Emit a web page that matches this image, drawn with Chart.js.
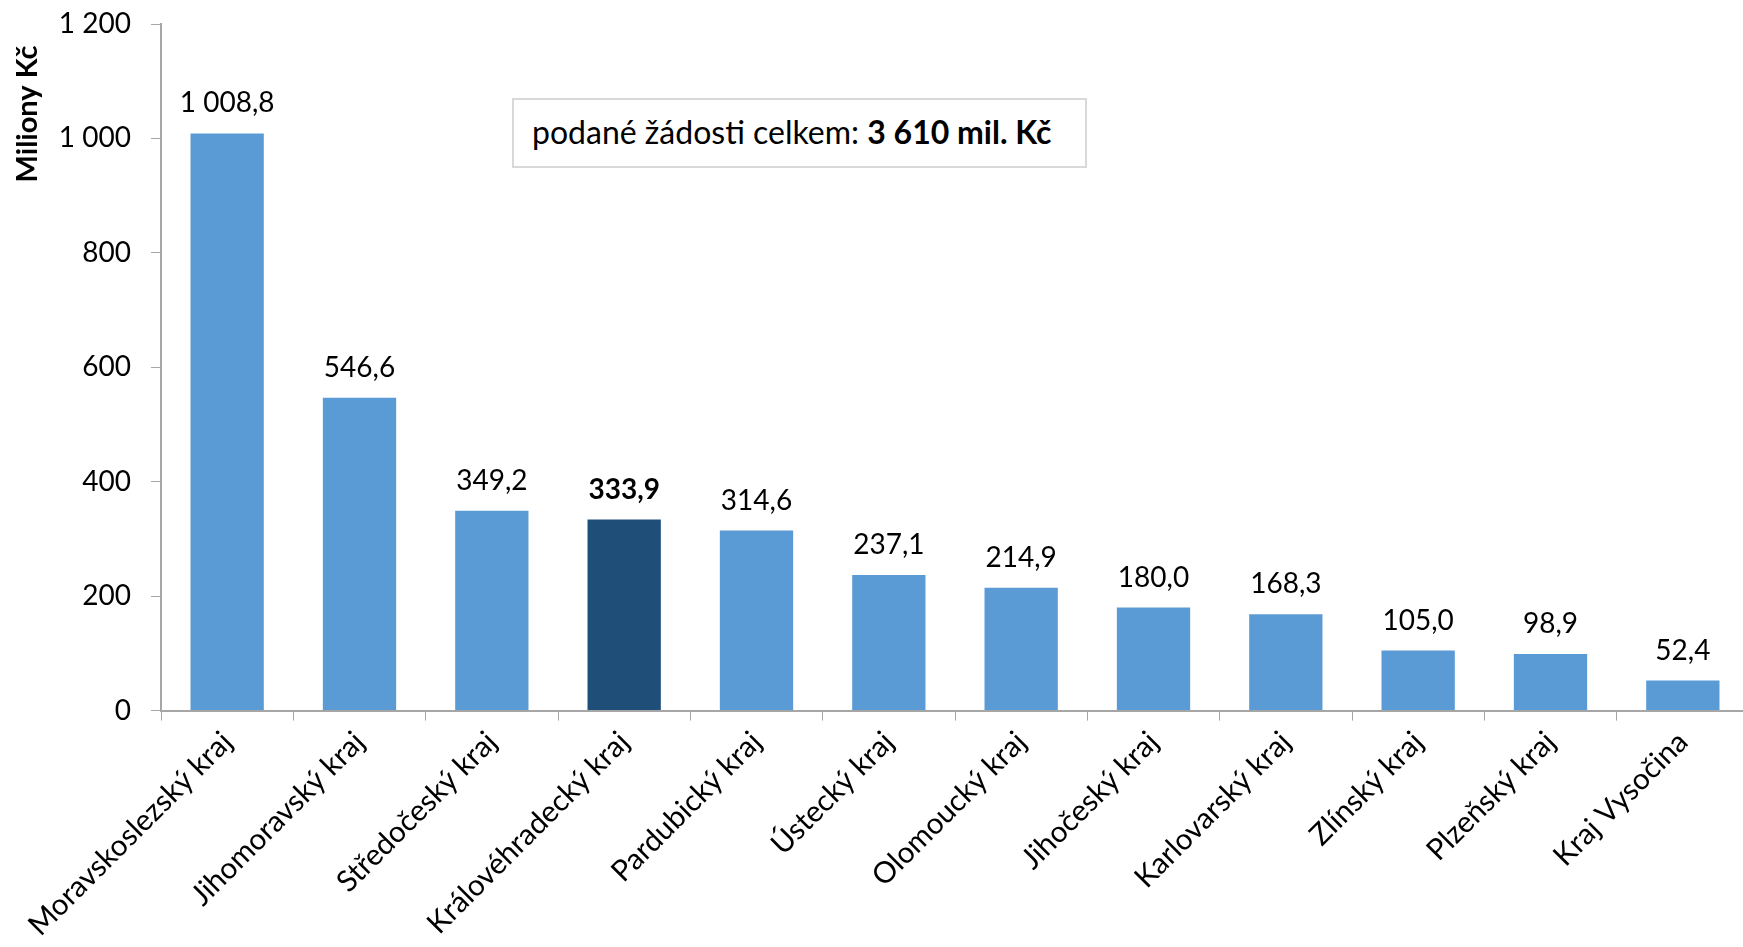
<!DOCTYPE html>
<html lang="cs">
<head>
<meta charset="utf-8">
<title>Podané žádosti podle krajů</title>
<script src="https://cdn.jsdelivr.net/npm/chart.js@4/dist/chart.umd.min.js"></script>
<style>
    html, body { margin: 0; padding: 0; background: #fff; overflow: hidden; }
    #obal { position: relative; width: 1743px; height: 947px; overflow: hidden; }
    #souhrn {
        position: absolute; left: 512px; top: 98px; width: 575px; height: 70px;
        box-sizing: border-box; border: 2px solid #d9d9d9; background: #fff;
        font-family: Lato, sans-serif; font-size: 32px; color: #000;
        line-height: 64px; padding-left: 18px; white-space: nowrap;
    }
</style>
</head>
<body>
<div id="obal">
    <!-- plocha grafu v originále přesahuje pravý okraj o pár pixelů -->
    <canvas id="graf" width="1749" height="947"></canvas>
    <div id="souhrn">podané žádosti celkem: <b>3 610 mil. Kč</b></div>
</div>
<script>
const kraje = [
    'Moravskoslezský kraj', 'Jihomoravský kraj', 'Středočeský kraj', 'Královéhradecký kraj',
    'Pardubický kraj', 'Ústecký kraj', 'Olomoucký kraj', 'Jihočeský kraj',
    'Karlovarský kraj', 'Zlínský kraj', 'Plzeňský kraj', 'Kraj Vysočina'
];
const hodnoty = [1008.8, 546.6, 349.2, 333.9, 314.6, 237.1, 214.9, 180.0, 168.3, 105.0, 98.9, 52.4];
const zvyraznenyKraj = 'Královéhradecký kraj';
const osaY = { min: 0, max: 1200, krok: 200 };

const modra = '#5b9bd5';
const tmavaModra = '#1f4e79';
const seda = '#a6a6a6';
const pismo = 'Lato, sans-serif';

function formatCislo(cislo, desetiny) {
    const casti = cislo.toFixed(desetiny).split('.');
    casti[0] = casti[0].replace(/\B(?=(\d{3})+(?!\d))/g, ' ');
    return casti.join(',');
}

// popisky hodnot nad sloupci
const popiskyHodnot = {
    id: 'popiskyHodnot',
    afterDatasetsDraw(chart) {
        const ctx = chart.ctx;
        const meta = chart.getDatasetMeta(0);
        ctx.save();
        ctx.fillStyle = '#000';
        ctx.textAlign = 'center';
        ctx.textBaseline = 'bottom';
        meta.data.forEach((sloupec, i) => {
            ctx.font = (kraje[i] === zvyraznenyKraj ? 'bold ' : '') + '28px ' + pismo;
            ctx.fillText(formatCislo(hodnoty[i], 1), sloupec.x, sloupec.y - 16);
        });
        ctx.restore();
    }
};

// nadpis osy Y nahoře u osy
const nadpisOsy = {
    id: 'nadpisOsy',
    afterDraw(chart) {
        const ctx = chart.ctx;
        ctx.save();
        ctx.translate(28, 114);
        ctx.rotate(-Math.PI / 2);
        ctx.font = 'bold 29px ' + pismo;
        ctx.fillStyle = '#000';
        ctx.textAlign = 'center';
        ctx.textBaseline = 'middle';
        ctx.fillText('Miliony Kč', 0, 0);
        ctx.restore();
    }
};

const ctx = document.getElementById('graf').getContext('2d');
new Chart(ctx, {
    type: 'bar',
    data: {
        labels: kraje,
        datasets: [{
            data: hodnoty,
            backgroundColor: kraje.map(k => k === zvyraznenyKraj ? tmavaModra : modra),
            barPercentage: 0.554,
            categoryPercentage: 1
        }]
    },
    options: {
        responsive: false,
        animation: false,
        layout: { padding: { top: 24, left: 0, right: 0, bottom: 0 } },
        plugins: {
            legend: { display: false },
            tooltip: { enabled: false }
        },
        scales: {
            x: {
                grid: { offset: true, drawOnChartArea: false, tickLength: 10, color: seda },
                border: { color: seda, width: 2 },
                ticks: {
                    color: '#000',
                    font: { family: pismo, size: 29.5 },
                    minRotation: 45,
                    maxRotation: 45,
                    autoSkip: false,
                    padding: 4
                }
            },
            y: {
                min: osaY.min,
                max: osaY.max,
                afterFit(scale) {
                    scale.width = 161;
                    scale.paddingTop = 0;
                    scale.paddingBottom = 0;
                },
                grid: { drawOnChartArea: false, tickLength: 10, color: seda },
                border: { color: seda, width: 2 },
                ticks: {
                    stepSize: osaY.krok,
                    color: '#000',
                    font: { family: pismo, size: 28 },
                    padding: 20,
                    callback: v => formatCislo(v, 0)
                }
            }
        }
    },
    plugins: [popiskyHodnot, nadpisOsy]
});
</script>
</body>
</html>
